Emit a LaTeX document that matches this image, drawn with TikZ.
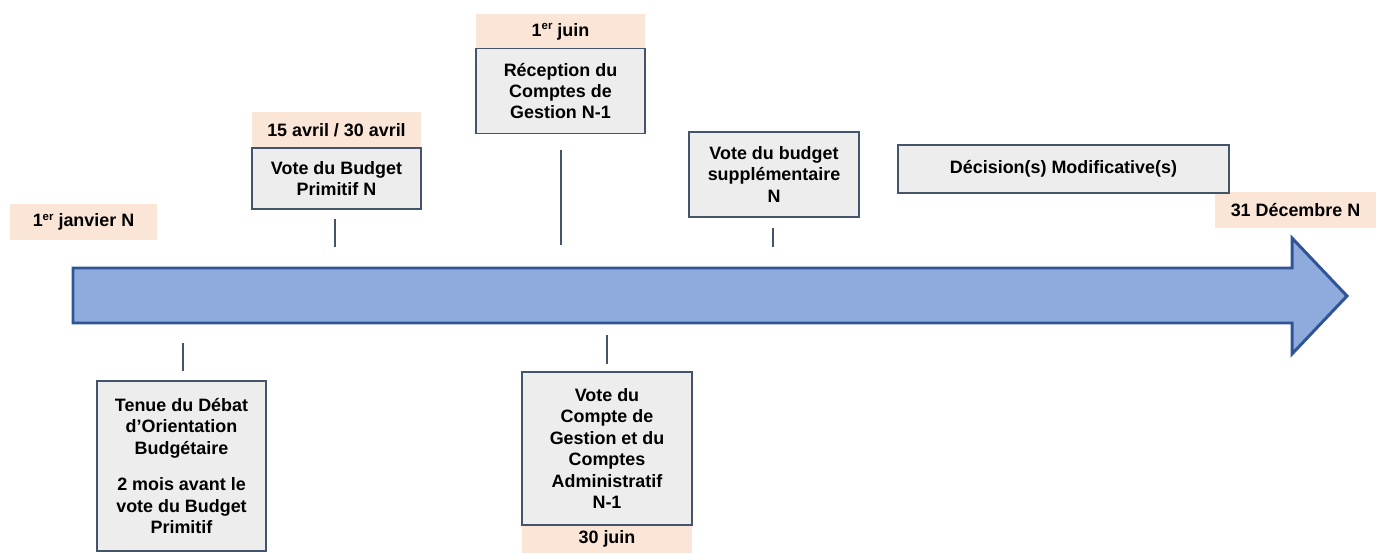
\documentclass[tikz,border=0pt]{standalone}
\usepackage{fontspec}
\setmainfont{Liberation Sans}
\usepackage{tikz}

\definecolor{arrowfill}{RGB}{143,170,220}
\definecolor{arrowline}{RGB}{47,85,151}
\definecolor{boxfill}{RGB}{237,237,237}
\definecolor{boxline}{RGB}{68,84,106}
\definecolor{datefill}{RGB}{251,229,214}

\newcommand{\exposant}[1]{\raisebox{0.35em}{\fontsize{6.5}{7}\selectfont #1}}

\tikzset{
	etape/.style = {draw=boxline, line width=1.1pt, fill=boxfill, align=center,
		font=\fontsize{10.2}{12.2}\selectfont\bfseries, inner sep=2pt},
	datelbl/.style = {fill=datefill, align=center, inner sep=0pt,
		font=\fontsize{10.2}{12}\selectfont\bfseries},
	repere/.style = {draw=boxline, line width=1.1pt}
}

\begin{document}
\begin{tikzpicture}[x=0.02cm, y=-0.02cm]
				\useasboundingbox (0,0) rectangle (1376,554);

				% la fleche du temps
				\draw[line width=1.7pt, draw=arrowline, fill=arrowfill, line join=miter]
					(73,268) -- (1292,268) -- (1292,238) -- (1347,296) -- (1292,354)
					-- (1292,323) -- (73,323) -- cycle;

				% reperes
				\foreach \x/\ya/\yb in {335/219/247, 561/150/245, 773/228/247, 183/343/371, 607/335/364}
					\draw[repere] (\x,\ya) -- (\x,\yb);

			% dates
			\node[datelbl, minimum width=2.94cm, minimum height=0.72cm] (janvier) at (83.5,222) {1\exposant{er} janvier N};
			\node[datelbl, minimum width=3.38cm, minimum height=0.72cm] (avril) at (336.5,130) {15 avril / 30 avril};
			\node[datelbl, minimum width=3.38cm, minimum height=0.70cm] (juin) at (560.5,31.5) {1\exposant{er} juin};
			\node[datelbl, minimum width=3.40cm, minimum height=0.56cm] (finjuin) at (607,539) {30 juin};
			\node[datelbl, minimum width=3.22cm, minimum height=0.72cm] (decembre) at (1295.5,210) {31 Décembre N};

			% etapes
			\node[etape, minimum width=3.38cm, minimum height=1.22cm] (primitif) at (336.5,178.5) {Vote du Budget\\Primitif N};
			\node[etape, minimum width=3.38cm, minimum height=1.70cm] (reception) at (560.5,91) {Réception du\\Comptes de\\Gestion N-1};
			\node[etape, minimum width=3.40cm, minimum height=1.70cm] (supplem) at (774,174.5) {Vote du budget\\supplémentaire\\N};
			\node[etape, minimum width=6.62cm, minimum height=0.96cm] (decision) at (1063.5,169) {Décision(s) Modificative(s)};
			\node[etape, minimum width=3.38cm, minimum height=3.40cm] (debat) at (181.5,466) {Tenue du Débat\\d’Orientation\\Budgétaire\\[0.3cm]2 mois avant le\\vote du Budget\\Primitif};
			\node[etape, minimum width=3.40cm, minimum height=3.06cm] (compte) at (607,448.5) {Vote du\\Compte de\\Gestion et du\\Comptes\\Administratif\\N-1};
		\end{tikzpicture}
\end{document}
